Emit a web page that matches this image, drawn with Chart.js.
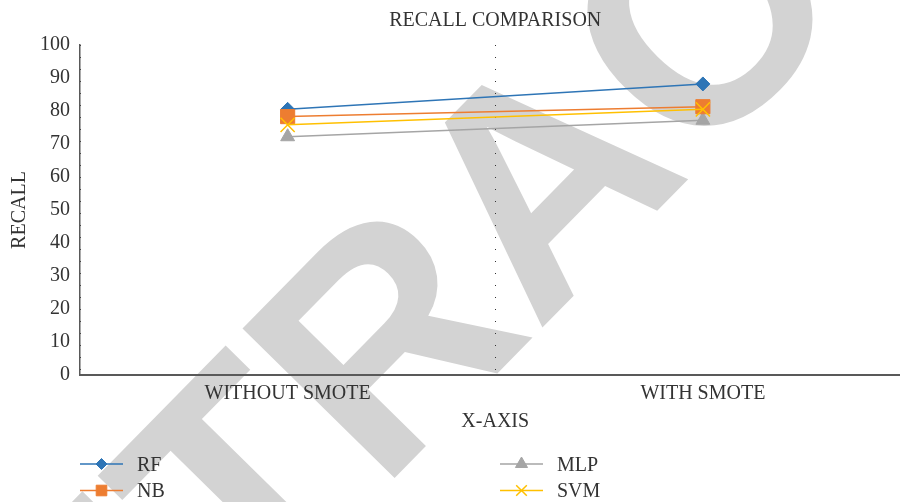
<!DOCTYPE html>
<html>
<head>
<meta charset="utf-8">
<title>Recall Comparison</title>
<script src="https://cdn.jsdelivr.net/npm/chart.js@4/dist/chart.umd.min.js"></script>
<style>
  html, body { margin: 0; padding: 0; overflow: hidden; background: #fff; width: 900px; height: 502px; }
  /* the plot runs on a little past the right edge, so the frame clips it */
  #wrap { width: 900px; height: 502px; position: relative; overflow: hidden; }
  #recallChart { display: block; position: absolute; left: 0; top: 0; }
</style>
</head>
<body>
<div id="wrap"><canvas id="recallChart" width="922" height="502"></canvas></div>
<script>
// Recall (%) per classifier, before and after SMOTE oversampling
const categories = ['WITHOUT SMOTE', 'WITH SMOTE'];
const rfRecall  = [80.5, 88.2];
const nbRecall  = [78.3, 81.3];
const mlpRecall = [72.2, 77.2];
const svmRecall = [75.8, 80.5];

const seriesNames = ['RF', 'NB', 'MLP', 'SVM'];
const chartTitle = 'RECALL COMPARISON';
const xAxisTitle = 'X-AXIS';
const yAxisTitle = 'RECALL';
const stampText = 'RETRACTED';

const SERIF = '"Liberation Serif", "Times New Roman", "DejaVu Serif", serif';
const TEXT = '#333333';
const AXIS = '#595959';

function series(label, data, color, style, radius, legendRadius, order) {
  return {
    label, data, order,
    borderColor: color,
    backgroundColor: color,
    borderWidth: 1.5,
    pointStyle: style,
    pointRadius: radius,
    pointHoverRadius: radius,
    pointBackgroundColor: color,
    pointBorderColor: color,
    pointBorderWidth: style === 'crossRot' ? 1.5 : 1,
    legendRadius,
    tension: 0
  };
}

// large grey stamp laid behind the plot
const stampPlugin = {
  id: 'stamp',
  beforeDraw(chart) {
    const ctx = chart.ctx;
    ctx.save();
    ctx.fillStyle = '#ffffff';
    ctx.fillRect(0, 0, chart.width, chart.height);
    ctx.font = 'bold 310px "Liberation Sans", Arial, sans-serif';
    ctx.fillStyle = '#d3d3d3';
    ctx.textBaseline = 'alphabetic';
    ctx.translate(537, 333);
    ctx.rotate(-45.5 * Math.PI / 180);
    const lead = ctx.measureText(stampText.slice(0, 4)).width;
    ctx.fillText(stampText, -lead, 0);
    ctx.restore();
  }
};

// title centred over the plotting area
const titlePlugin = {
  id: 'plotTitle',
  afterDraw(chart) {
    const { ctx, chartArea } = chart;
    ctx.save();
    ctx.font = '20px ' + SERIF;
    ctx.fillStyle = TEXT;
    ctx.textAlign = 'center';
    ctx.textBaseline = 'alphabetic';
    ctx.fillText(chartTitle, (chartArea.left + chartArea.right) / 2, 26);
    ctx.restore();
  }
};

// two-column legend below the x axis title
const legendPlugin = {
  id: 'twoColLegend',
  afterDraw(chart) {
    const ctx = chart.ctx;
    const slots = [[80, 464], [80, 490.5], [500, 464], [500, 490.5]];
    chart.data.datasets.forEach((ds, i) => {
      const [x, y] = slots[i];
      ctx.save();
      ctx.strokeStyle = ds.borderColor;
      ctx.lineWidth = 1.5;
      ctx.beginPath();
      ctx.moveTo(x, y);
      ctx.lineTo(x + 43, y);
      ctx.stroke();
      ctx.fillStyle = ds.pointBackgroundColor;
      ctx.strokeStyle = ds.pointBorderColor;
      ctx.lineWidth = ds.pointBorderWidth;
      Chart.helpers.drawPoint(ctx, {
        pointStyle: ds.pointStyle, radius: ds.legendRadius, rotation: 0,
        borderWidth: ds.pointBorderWidth
      }, x + 21.5, y);
      ctx.font = '20px ' + SERIF;
      ctx.fillStyle = TEXT;
      ctx.textAlign = 'left';
      ctx.textBaseline = 'alphabetic';
      ctx.fillText(ds.label, x + 57, y + 6.5);
      ctx.restore();
    });
  }
};

new Chart(document.getElementById('recallChart'), {
  type: 'line',
  data: {
    labels: categories,
    datasets: [
      series(seriesNames[0], rfRecall,  '#2E75B6', 'rectRot',  7,  5.5, 3),
      series(seriesNames[1], nbRecall,  '#ED7D31', 'rect',     10, 7.5, 1),
      series(seriesNames[2], mlpRecall, '#A5A5A5', 'triangle', 8,  7,   2),
      series(seriesNames[3], svmRecall, '#FFC000', 'crossRot', 10, 7.5, 0)
    ]
  },
  options: {
    responsive: false,
    maintainAspectRatio: false,
    devicePixelRatio: 1,
    animation: false,
    events: [],
    layout: { padding: { top: 45, bottom: 68, left: 0, right: 0 } },
    plugins: {
      legend: { display: false },
      title: { display: false },
      tooltip: { enabled: false }
    },
    scales: {
      x: {
        type: 'category',
        offset: true,
        grid: { display: true, offset: true, drawTicks: false, color: '#333333', lineWidth: 1 },
        border: { display: true, color: AXIS, width: 2, dash: [1, 11] },
        ticks: { padding: 7, color: TEXT, maxRotation: 0, font: { family: SERIF, size: 20 } },
        title: {
          display: true, text: xAxisTitle, color: TEXT,
          font: { family: SERIF, size: 20 }, padding: { top: 8, bottom: 0 }
        },
        afterFit(scale) {
          scale.height = 59;
          scale.paddingLeft = 0;
          scale.paddingRight = 0;
        }
      },
      y: {
        min: 0,
        max: 100,
        grid: { display: false, drawTicks: false },
        border: { display: true, color: AXIS, width: 1.5 },
        ticks: { stepSize: 10, padding: 10, color: TEXT, font: { family: SERIF, size: 20 } },
        title: {
          display: true, text: yAxisTitle, color: TEXT,
          font: { family: SERIF, size: 20 }, padding: { top: 8, bottom: 0 }
        },
        afterFit(scale) {
          scale.width = 80;
          scale.paddingTop = 0;
          scale.paddingBottom = 0;
        }
      }
    }
  },
  plugins: [stampPlugin, titlePlugin, legendPlugin]
});
</script>
</body>
</html>
